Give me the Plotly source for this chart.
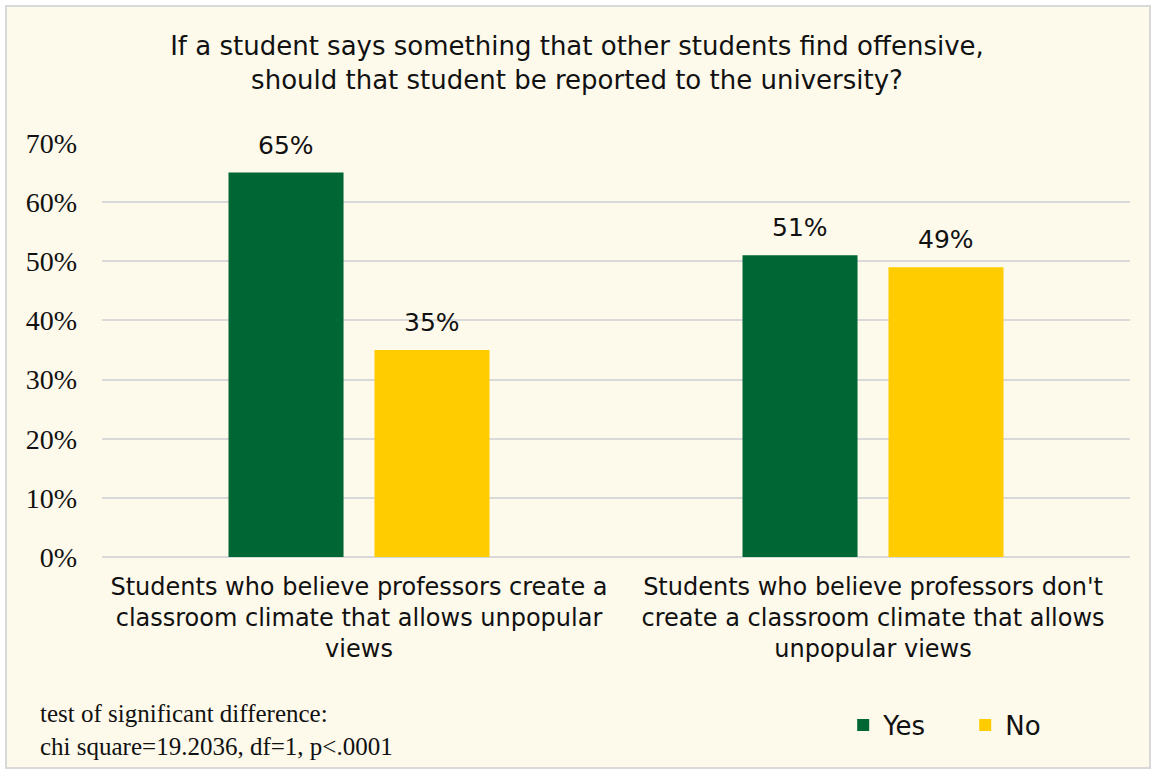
import plotly.graph_objects as go

# Survey responses by perceived classroom climate
categories = [
    "Students who believe professors create a<br>classroom climate that allows unpopular<br>views",
    "Students who believe professors don't<br>create a classroom climate that allows<br>unpopular views",
]
yes_values = [65, 51]
no_values = [35, 49]
series_names = ["Yes", "No"]
tick_values = [0, 10, 20, 30, 40, 50, 60, 70]
tick_labels = ["0%", "10%", "20%", "30%", "40%", "50%", "60%", "70%"]

title_text = ("If a student says something that other students find offensive,<br>"
              "should that student be reported to the university?")
note_text = "test of significant difference:<br>chi square=19.2036, df=1, p<.0001"

GREEN = "#006633"
YELLOW = "#FFCC00"
SANS = "DejaVu Sans"
SERIF = "Liberation Serif"

fig = go.Figure()
for name, vals, color in [(series_names[0], yes_values, GREEN), (series_names[1], no_values, YELLOW)]:
    fig.add_trace(go.Bar(
        name=name, x=categories, y=vals, marker=dict(color=color, line=dict(width=0)),
    ))

# value labels above bars
annotations = []
offsets = [-0.142, 0.142]
for k, vals in enumerate([yes_values, no_values]):
    for i, v in enumerate(vals):
        annotations.append(dict(
            x=i + offsets[k], y=v, xref="x", yref="y", text=f"{v}%",
            showarrow=False, yanchor="bottom", yshift=11,
            font=dict(family=SANS, size=25, color="#111111"),
        ))

annotations.append(dict(
    x=-0.062, y=-0.417, xref="paper", yref="paper", text=note_text,
    showarrow=False, xanchor="left", yanchor="middle", align="left",
    font=dict(family=SERIF, size=25, color="#111111"),
))

fig.update_layout(
    width=1154, height=772,
    margin=dict(l=102, r=24, t=143, b=215, autoexpand=False),
    paper_bgcolor="white",
    plot_bgcolor="rgba(0,0,0,0)",
    barmode="group",
    bargap=0.432,
    bargroupgap=0.212,
    title=dict(text=title_text, x=0.5, xanchor="center", y=0.929, yanchor="middle",
               font=dict(family=SANS, size=26, color="#111111")),
    xaxis=dict(
        type="category",
        tickfont=dict(family=SANS, size=24, color="#111111"),
        showline=False, showgrid=False, ticks="", ticklabelstandoff=13,
    ),
    yaxis=dict(
        range=[0, 70], tickvals=tick_values, ticktext=tick_labels,
        tickfont=dict(family=SERIF, size=28, color="#111111"),
        showgrid=True, gridcolor="#D9D9D9", gridwidth=1.5,
        zeroline=True, zerolinecolor="#D9D9D9", zerolinewidth=1.5,
        showline=False, ticks="", ticklabelstandoff=24,
    ),
    legend=dict(
        orientation="h", x=0.721, y=-0.406, xanchor="left", yanchor="middle",
        font=dict(family=SANS, size=26, color="#111111"),
        bgcolor="rgba(0,0,0,0)", entrywidth=77, entrywidthmode="pixels",
        itemwidth=30, traceorder="normal",
    ),
    annotations=annotations,
    shapes=[dict(
        type="rect", xref="paper", yref="paper", layer="below",
        x0=(6 - 102) / 1028, x1=(1150 - 102) / 1028,
        y0=(557 - 768) / 414, y1=(557 - 6) / 414,
        fillcolor="#FDF9EB", line=dict(color="#D9D9D9", width=2),
    )],
)

fig.write_html("out.html")
